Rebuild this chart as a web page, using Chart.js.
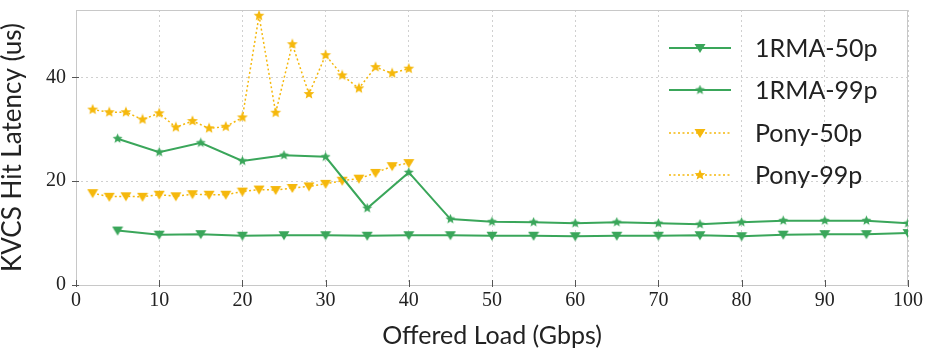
<!DOCTYPE html>
<html>
<head>
<meta charset="utf-8">
<script src="https://cdn.jsdelivr.net/npm/chart.js@4/dist/chart.umd.min.js"></script>
<style>
html,body{margin:0;padding:0;background:#fff;}
#wrap{width:929px;height:350px;position:relative;}
</style>
</head>
<body>
<div id="wrap"><canvas id="c" width="929" height="350"></canvas></div>
<script>
// ---- data ----
const rmaLoads = [5,10,15,20,25,30,35,40,45,50,55,60,65,70,75,80,85,90,95,100];
const rma50 = [10.5,9.7,9.8,9.5,9.6,9.6,9.5,9.6,9.6,9.5,9.5,9.4,9.5,9.5,9.6,9.4,9.7,9.8,9.8,10.0];
const rma99 = [28.2,25.6,27.4,23.9,25.0,24.7,14.8,21.7,12.7,12.2,12.1,11.9,12.1,11.9,11.7,12.1,12.4,12.4,12.4,11.9];
const ponyLoads = [2,4,6,8,10,12,14,16,18,20,22,24,26,28,30,32,34,36,38,40];
const pony50 = [17.7,17.0,17.1,17.0,17.4,17.1,17.5,17.4,17.4,18.0,18.4,18.3,18.7,19.0,19.5,20.1,20.5,21.6,22.9,23.5];
const pony99 = [33.8,33.3,33.3,31.9,33.1,30.4,31.6,30.2,30.5,32.3,51.9,33.2,46.4,36.8,44.3,40.4,37.9,42.0,40.8,41.7];
const xTicks = [0,10,20,30,40,50,60,70,80,90,100];
const yTicks = [0,20,40];
const seriesNames = ['1RMA-50p','1RMA-99p','Pony-50p','Pony-99p'];

const GREEN = '#3aa65a';
const GOLD = '#f5b80c';

function makeMarker(kind, color, size) {
  const c = document.createElement('canvas');
  c.width = size; c.height = size;
  const g = c.getContext('2d');
  const cx = size/2, cy = size/2;
  g.fillStyle = color;
  g.beginPath();
  if (kind === 'tri') {
    const r = size/2 - 0.5;
    g.moveTo(cx - r, cy - r*0.72);
    g.lineTo(cx + r, cy - r*0.72);
    g.lineTo(cx, cy + r*0.9);
  } else {
    const R = size/2 - 0.3, r = R*0.45;
    for (let i = 0; i < 10; i++) {
      const a = -Math.PI/2 + i*Math.PI/5;
      const rr = i%2 ? r : R;
      const px = cx + rr*Math.cos(a), py = cy + rr*Math.sin(a);
      if (i === 0) g.moveTo(px,py); else g.lineTo(px,py);
    }
  }
  g.closePath();
  g.fill();
  return c;
}
const mTriG = makeMarker('tri', GREEN, 12);
const mStarG = makeMarker('star', GREEN, 11);
const mTriY = makeMarker('tri', GOLD, 12);
const mStarY = makeMarker('star', GOLD, 12);

const pts = (xs, ys) => xs.map((x,i) => ({x, y: ys[i]}));

const datasets = [
  {label: seriesNames[0], data: pts(rmaLoads, rma50), borderColor: GREEN, backgroundColor: GREEN, borderWidth: 2, pointStyle: mTriG, pointRadius: 6},
  {label: seriesNames[1], data: pts(rmaLoads, rma99), borderColor: GREEN, backgroundColor: GREEN, borderWidth: 2, pointStyle: mStarG, pointRadius: 6},
  {label: seriesNames[2], data: pts(ponyLoads, pony50), borderColor: GOLD, backgroundColor: GOLD, borderWidth: 1.5, borderDash: [2,2.5], pointStyle: mTriY, pointRadius: 6},
  {label: seriesNames[3], data: pts(ponyLoads, pony99), borderColor: GOLD, backgroundColor: GOLD, borderWidth: 1.5, borderDash: [2,2.5], pointStyle: mStarY, pointRadius: 6},
];

const LABEL_FONT = 'Lato, "Open Sans", sans-serif';
const TICK_FONT = '"Liberation Serif", "DejaVu Serif", serif';

const framePlugin = {
  id: 'frame',
  beforeDatasetsDraw(chart) {
    const {ctx, chartArea: a, scales} = chart;
    ctx.save();
    ctx.strokeStyle = '#c8c8c8';
    ctx.lineWidth = 1;
    ctx.strokeRect(a.left + 0.5, a.top + 0.5, a.right - a.left - 1, a.bottom - a.top);
    ctx.strokeStyle = '#555';
    ctx.beginPath();
    xTicks.forEach(v => {
      const x = Math.round(scales.x.getPixelForValue(v)) + 0.5;
      ctx.moveTo(x, a.bottom + 2); ctx.lineTo(x, a.bottom - 5);
    });
    yTicks.forEach(v => {
      const y = Math.round(scales.y.getPixelForValue(v)) + 0.5;
      ctx.moveTo(a.left - 4, y); ctx.lineTo(a.left + 3, y);
    });
    ctx.stroke();
    ctx.restore();
  },
  afterDatasetsDraw(chart) {
    const {ctx} = chart;
    const ds = chart.data.datasets;
    const x0 = 669, x1 = 731, tx = 755;
    const ys = [48, 90, 133, 175];
    ctx.save();
    ds.forEach((d, i) => {
      const y = ys[i];
      ctx.strokeStyle = d.borderColor;
      ctx.lineWidth = d.borderWidth;
      ctx.setLineDash(d.borderDash || []);
      ctx.beginPath(); ctx.moveTo(x0, y); ctx.lineTo(x1, y); ctx.stroke();
      ctx.setLineDash([]);
      const m = d.pointStyle;
      ctx.drawImage(m, (x0+x1)/2 - m.width/2, y - m.height/2);
      ctx.fillStyle = '#222';
      ctx.font = '25px ' + LABEL_FONT;
      ctx.textBaseline = 'middle';
      ctx.fillText(d.label, tx, y + 1);
    });
    ctx.restore();
  }
};

new Chart(document.getElementById('c'), {
  type: 'line',
  data: {datasets},
  plugins: [framePlugin],
  options: {
    responsive: false,
    animation: false,
    layout: {padding: {top: 10, right: 21, left: 0, bottom: 0}},
    plugins: {legend: {display: false}, tooltip: {enabled: false}},
    elements: {point: {pointBorderWidth: 0}, line: {tension: 0}},
    scales: {
      x: {
        type: 'linear', min: 0, max: 100,
        afterBuildTicks: s => { s.ticks = xTicks.map(v => ({value: v})); },
        afterFit: s => { s.height = 65; s.paddingLeft = 0; s.paddingRight = 0; },
        grid: {color: '#d0d0d0', lineWidth: 1, drawTicks: false},
        border: {display: false, dash: [2,3]},
        ticks: {font: {family: TICK_FONT, size: 20}, color: '#222', padding: 4, maxRotation: 0},
        title: {display: true, text: 'Offered Load (Gbps)', font: {family: LABEL_FONT, size: 25, lineHeight: 1.0}, color: '#222', padding: {top: 2, bottom: 2}}
      },
      y: {
        type: 'linear', min: 0, max: 53,
        afterBuildTicks: s => { s.ticks = yTicks.map(v => ({value: v})); },
        afterFit: s => { s.width = 76; s.paddingTop = 0; s.paddingBottom = 0; },
        grid: {color: '#d0d0d0', lineWidth: 1, drawTicks: false},
        border: {display: false, dash: [2,3]},
        ticks: {font: {family: TICK_FONT, size: 20}, color: '#222', padding: 10},
        title: {display: true, text: 'KVCS Hit Latency (us)', font: {family: LABEL_FONT, size: 26, lineHeight: 1.0}, color: '#222', padding: {top: 0, bottom: 0}}
      }
    }
  }
});
</script>
</body>
</html>
